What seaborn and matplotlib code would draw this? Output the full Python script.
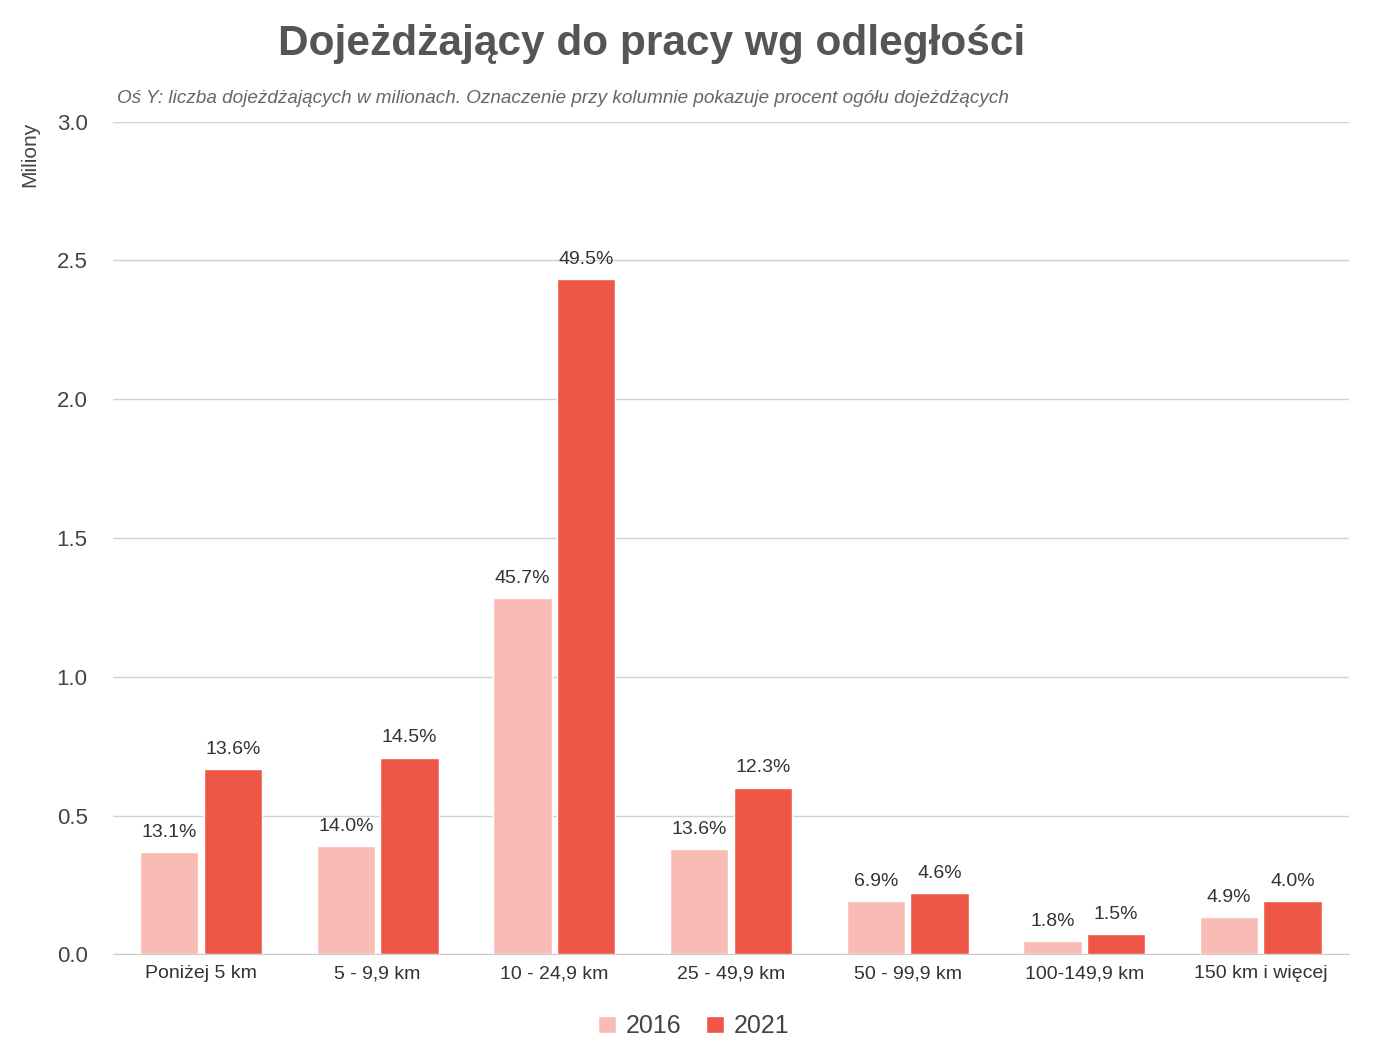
import pandas as pd
import matplotlib
matplotlib.use("Agg")
import matplotlib.pyplot as plt
import seaborn as sns

categories = ["Poniżej 5 km", "5 - 9,9 km", "10 - 24,9 km", "25 - 49,9 km",
              "50 - 99,9 km", "100-149,9 km", "150 km i więcej"]
years = ["2016", "2021"]
values_2016 = [0.367, 0.389, 1.282, 0.378, 0.191, 0.047, 0.133]
values_2021 = [0.666, 0.709, 2.434, 0.601, 0.220, 0.072, 0.191]
labels_2016 = ["13.1%", "14.0%", "45.7%", "13.6%", "6.9%", "1.8%", "4.9%"]
labels_2021 = ["13.6%", "14.5%", "49.5%", "12.3%", "4.6%", "1.5%", "4.0%"]

df = pd.DataFrame({
    "kat": categories * 2,
    "rok": [years[0]] * 7 + [years[1]] * 7,
    "val": values_2016 + values_2021,
})

sns.set_style("white")
plt.rcParams["font.family"] = ["Liberation Sans", "DejaVu Sans"]

fig = plt.figure(figsize=(13.74, 10.58), dpi=100)
ax = fig.add_axes([0.082, 0.098, 0.9, 0.787])
sns.barplot(data=df, x="kat", y="val", hue="rok",
            palette=["#F8BCB4", "#EE5746"], width=0.72, gap=0.08,
            saturation=1, ax=ax)

for cont, labs in zip(ax.containers, [labels_2016, labels_2021]):
    ax.bar_label(cont, labels=labs, padding=8, fontsize=14, color="#333333")

ax.set_ylim(0, 3.0)
ax.set_yticks([0, 0.5, 1.0, 1.5, 2.0, 2.5, 3.0])
ax.set_yticklabels([f"{v:.1f}" for v in [0, 0.5, 1.0, 1.5, 2.0, 2.5, 3.0]])
ax.yaxis.grid(True, color="#d0d0d0", linewidth=1)
ax.set_axisbelow(True)
for s in ["top", "right", "left"]:
    ax.spines[s].set_visible(False)
ax.spines["bottom"].set_color("#cccccc")
ax.tick_params(axis="y", labelsize=16, colors="#444444", length=0, pad=18)
ax.tick_params(axis="x", labelsize=14, colors="#333333", length=0, pad=8)
ax.set_xlabel("")
ax.set_ylabel("")
ax.set_xlim(-0.5, 6.5)

fig.text(0.022, 0.885, "Miliony", rotation=90, fontsize=15, color="#444444",
         va="top", ha="center")
fig.text(0.474, 0.958, "Dojeżdżający do pracy wg odległości", fontsize=30.5,
         fontweight="bold", color="#555555", ha="center", va="center")
fig.text(0.085, 0.907, "Oś Y: liczba dojeżdżających w milionach. Oznaczenie przy kolumnie pokazuje procent ogółu dojeżdżących",
         fontsize=13.6, style="italic", color="#666666", va="center")

ax.legend(loc="upper center", bbox_to_anchor=(0.47, -0.045), ncol=2, frameon=False,
          fontsize=18, handlelength=0.7, handleheight=0.7, columnspacing=1.0,
          handletextpad=0.4, labelcolor="#444444")

fig.savefig("out.png", dpi=100)
